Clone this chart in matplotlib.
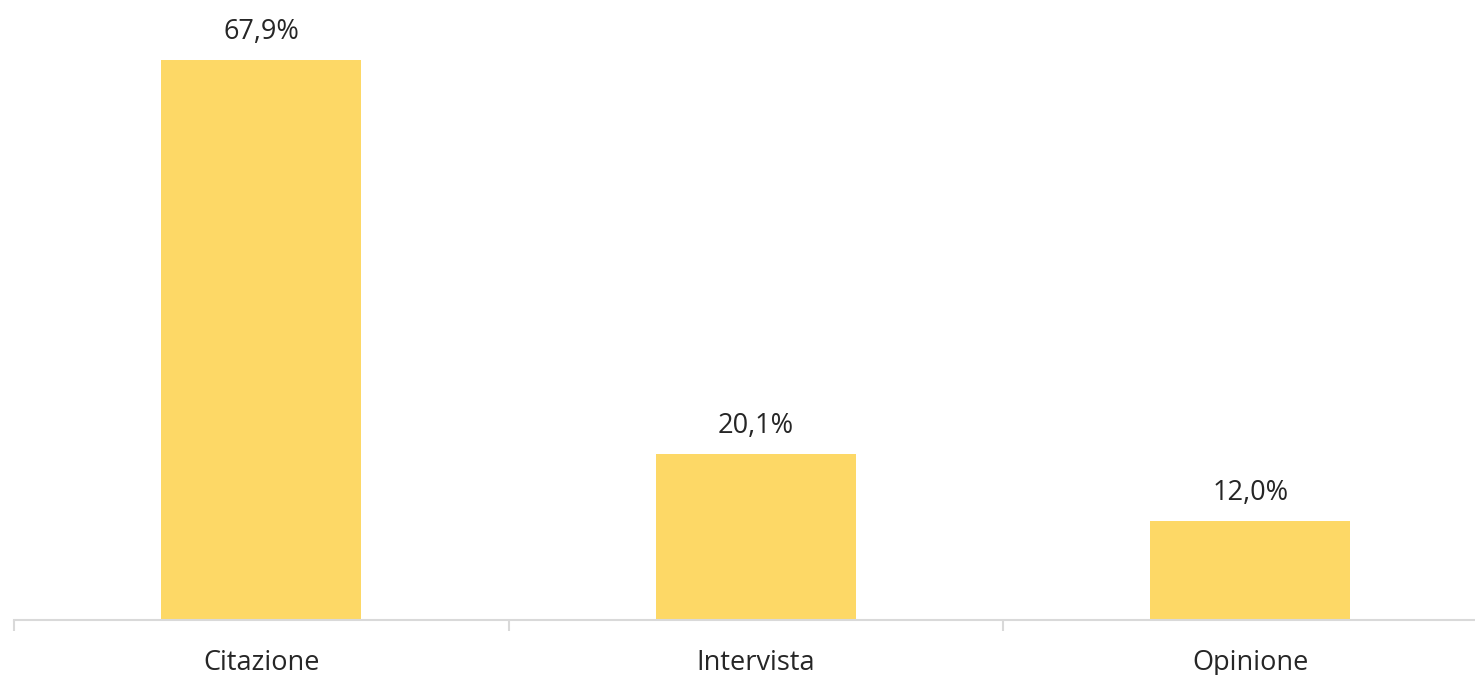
import matplotlib.pyplot as plt

categories = ["Citazione", "Intervista", "Opinione"]
values = [67.9, 20.1, 12.0]
labels = ["67,9%", "20,1%", "12,0%"]

BAR_COLOR = "#FDD866"
AXIS_COLOR = "#D9D9D9"
TEXT_COLOR = "#262626"

plt.rcParams["font.family"] = ["Open Sans", "DejaVu Sans"]

fig = plt.figure(figsize=(14.75, 6.75), dpi=100)
# axes spans past the right edge, the original is cropped there
ax = fig.add_axes([14 / 1475, 55 / 675, 1483.5 / 1475, 618.5 / 675])

x = range(len(categories))
ax.bar(x, values, width=0.404, color=BAR_COLOR, zorder=2)

for xi, v, lab in zip(x, values, labels):
    ax.annotate(lab, (xi, v), xytext=(0, 20), textcoords="offset points",
                ha="center", va="center", fontsize=19.5, color=TEXT_COLOR)

ax.set_xlim(-0.5, 2.5)
ax.set_ylim(0, 75)

ax.set_xticks([-0.5, 0.5, 1.5, 2.5])
ax.set_xticklabels([])
ax.set_xticks(list(x), minor=True)
ax.set_xticklabels(categories, minor=True, fontsize=19.5, color=TEXT_COLOR)
ax.tick_params(axis="x", which="major", length=8, width=1.5, color=AXIS_COLOR, direction="out")
ax.tick_params(axis="x", which="minor", length=0, pad=21)
ax.set_yticks([])

for side in ["top", "right", "left"]:
    ax.spines[side].set_visible(False)
ax.spines["bottom"].set_color(AXIS_COLOR)
ax.spines["bottom"].set_linewidth(1.5)

fig.savefig("out.png", dpi=100)
